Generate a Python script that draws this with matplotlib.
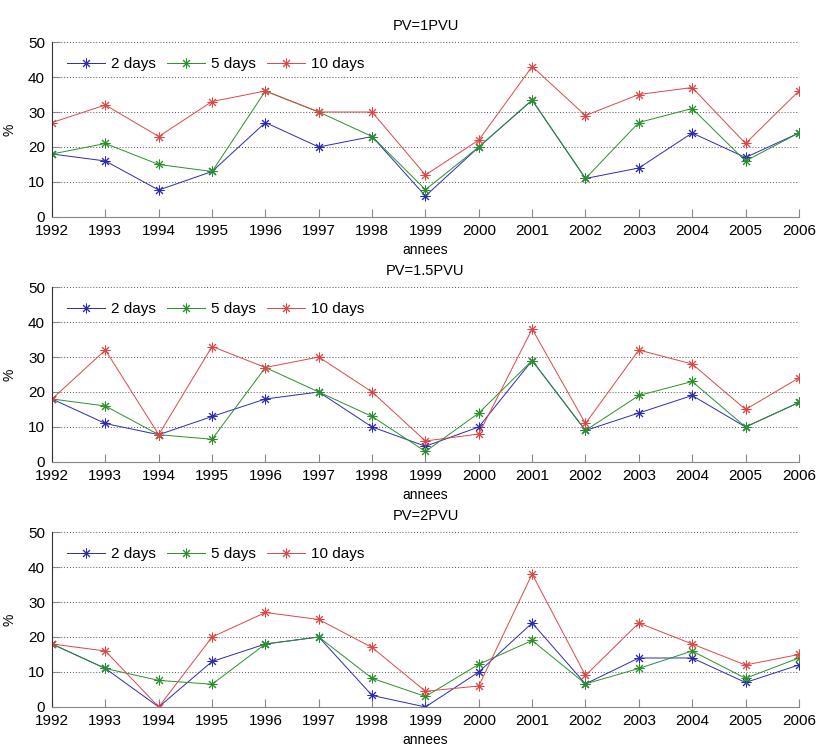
import matplotlib
matplotlib.use("Agg")
import matplotlib.pyplot as plt

plt.rcParams['font.family'] = ['Liberation Sans', 'DejaVu Sans']

# annees
years = list(range(1992, 2007))

# PV=1PVU
pv1_2d = [18, 16, 7.7, 13, 27, 20, 23, 6, 20, 33.4, 11, 14, 24, 17, 24]
pv1_5d = [18, 21, 15, 13, 36, 30, 23, 7.8, 20, 33.4, 11, 27, 31, 16, 24]
pv1_10d = [27, 32, 23, 33, 36, 30, 30, 12, 22, 43, 29, 35, 37, 21, 36]

# PV=1.5PVU
pv15_2d = [18, 11, 7.8, 13, 18, 20, 10, 4.5, 10, 29, 9, 14, 19, 10, 17]
pv15_5d = [18, 16, 7.8, 6.5, 27, 20, 13, 3, 14, 29, 9, 19, 23, 10, 17]
pv15_10d = [18, 32, 7.8, 33, 27, 30, 20, 6, 8, 38, 11, 32, 28, 15, 24]

# PV=2PVU
pv2_2d = [18, 11, 0, 13, 18, 20, 3.3, 0, 10, 24, 6.6, 14, 14, 7, 12]
pv2_5d = [18, 11, 7.6, 6.5, 18, 20, 8.2, 3, 12.2, 19, 6.6, 11, 16, 8.2, 14]
pv2_10d = [18, 16, 0, 20, 27, 25, 17, 4.5, 6, 38, 9, 24, 18, 12, 15]

titres = ["PV=1PVU", "PV=1.5PVU", "PV=2PVU"]
series = [(pv1_2d, pv1_5d, pv1_10d),
          (pv15_2d, pv15_5d, pv15_10d),
          (pv2_2d, pv2_5d, pv2_10d)]
noms = ["2 days", "5 days", "10 days"]
couleurs = ["#2b2bb5", "#279327", "#e04646"]

fig = plt.figure(figsize=(8.18, 7.49), dpi=100)

# positions des axes (bas de chaque panneau)
bas = [0.7103, 0.3832, 0.0561]
for i in range(3):
    ax = fig.add_axes([0.0636, bas[i], 0.913, 0.2336])
    for s, nom, c in zip(series[i], noms, couleurs):
        ax.plot(years, s, color=c, lw=0.7, marker=(8, 2, 0), ms=7, mew=0.7, label=nom)
    ax.set_xlim(1992, 2006)
    ax.set_ylim(0, 50)
    ax.set_xticks(years)
    ax.set_yticks([0, 10, 20, 30, 40, 50])
    ax.yaxis.grid(True, linestyle=(0, (1, 2)), color='#555555', lw=0.7)
    ax.spines['top'].set_visible(False)
    ax.spines['right'].set_visible(False)
    ax.spines['left'].set_color('#333333')
    ax.spines['bottom'].set_color('#888888')
    ax.tick_params(direction='in', length=6, labelsize=11, color='#888888', pad=5)
    ax.set_title(titres[i], fontsize=10.5, pad=9)
    ax.set_ylabel("%", fontsize=10, labelpad=8)
    ax.set_xlabel("annees", fontsize=10, labelpad=4)
    ax.legend(loc='upper left', ncol=3, frameon=False, fontsize=11,
              handlelength=2.5, columnspacing=0.7, handletextpad=0.4,
              borderpad=0, borderaxespad=0, bbox_to_anchor=(0.02, 0.915))

fig.savefig("out.png", dpi=100)
